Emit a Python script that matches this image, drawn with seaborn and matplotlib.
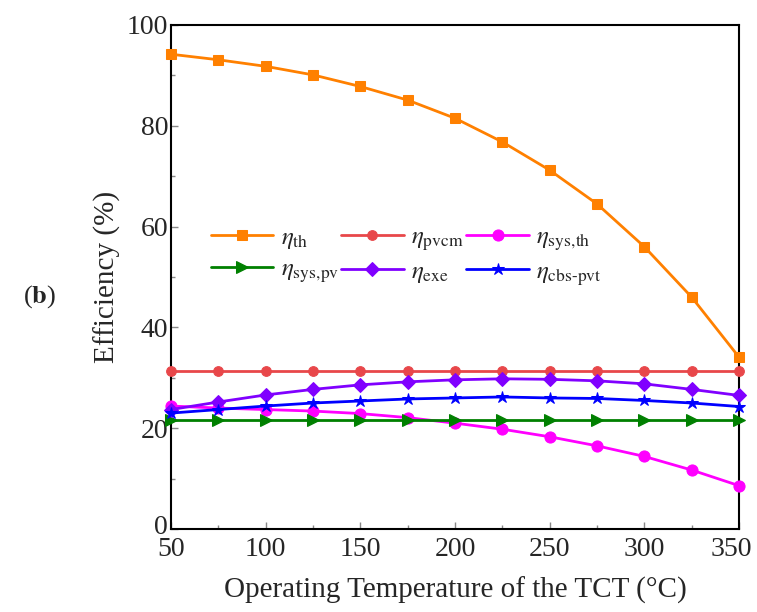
import matplotlib
matplotlib.use("Agg")
import matplotlib.pyplot as plt
import matplotlib.transforms as mtransforms
import seaborn as sns
import pandas as pd
from matplotlib.ticker import MultipleLocator

# Operating temperature of the TCT (°C)
temperature = [50, 75, 100, 125, 150, 175, 200, 225, 250, 275, 300, 325, 350]

# Efficiencies (%)
eta_th = [94.2, 93.1, 91.8, 90.1, 87.8, 85.1, 81.5, 76.8, 71.2, 64.5, 56.0, 46.0, 34.1]
eta_pvcm = [31.4] * 13
eta_sys_th = [24.4, 24.0, 23.7, 23.4, 22.9, 22.1, 21.0, 19.8, 18.3, 16.5, 14.4, 11.7, 8.6]
eta_sys_pv = [21.7] * 13
eta_exe = [23.7, 25.2, 26.6, 27.7, 28.6, 29.2, 29.6, 29.8, 29.7, 29.4, 28.8, 27.7, 26.5]
eta_cbs_pvt = [23.0, 23.7, 24.4, 25.0, 25.4, 25.8, 26.0, 26.2, 26.0, 25.9, 25.5, 25.0, 24.3]

series_labels = [r"$\eta_{\rm th}$", r"$\eta_{\rm pvcm}$", r"$\eta_{\rm sys,\!th}$",
                 r"$\eta_{\rm sys,\!pv}$", r"$\eta_{\rm exe}$", r"$\eta_{\rm cbs\text{-}pvt}$"]
series_values = [eta_th, eta_pvcm, eta_sys_th, eta_sys_pv, eta_exe, eta_cbs_pvt]
series_colors = ["#FF8000", "#E8474A", "#FF00FF", "#008000", "#8000FF", "#0000FF"]
series_markers = ["s", "o", "o", ">", "D", "*"]
series_msize = [7, 7, 8, 8, 7, 9]

sns.set_theme(style="ticks")
plt.rcParams["font.family"] = ["Liberation Serif", "DejaVu Serif"]
plt.rcParams["mathtext.fontset"] = "stix"

fig = plt.figure(figsize=(7.57, 6.12), dpi=100)
ax = fig.add_axes([171 / 757, 1 - 529 / 612, (739 - 171) / 757, (529 - 25) / 612])

for lab, vals, col, mk, ms in zip(series_labels, series_values, series_colors,
                                  series_markers, series_msize):
    df = pd.DataFrame({"T": temperature, "eta": vals})
    sns.lineplot(data=df, x="T", y="eta", ax=ax, color=col, marker=mk,
                 markersize=ms, markeredgecolor=col, linewidth=2, label=lab,
                 clip_on=False, zorder=3)

ax.set_xlim(50, 350)
ax.set_ylim(0, 100)
ax.set_xticks(list(range(50, 351, 50)))
ax.set_yticks(list(range(0, 101, 20)))
ax.xaxis.set_minor_locator(MultipleLocator(25))
ax.yaxis.set_minor_locator(MultipleLocator(10))
ax.tick_params(which="both", direction="in", top=False, right=False,
               labelsize=20, color="#888888", width=1)
ax.tick_params(which="major", length=5, pad=2)
ax.tick_params(which="minor", length=3)
ax.tick_params(axis="x", which="major", pad=6)
for s in ax.spines.values():
    s.set_linewidth(1.5)
    s.set_color("black")

# nudge the two corner tick labels so they stay clear of each other and the edge
fig.canvas.draw()
for tick in ax.xaxis.get_major_ticks():
    if abs(tick.get_loc() - 350) < 1e-6:
        tick.label1.set_transform(tick.label1.get_transform() +
                                  mtransforms.ScaledTranslation(-8 / 100, 0,
                                                                fig.dpi_scale_trans))
for tick in ax.yaxis.get_major_ticks():
    if abs(tick.get_loc()) < 1e-6:
        tick.label1.set_transform(tick.label1.get_transform() +
                                  mtransforms.ScaledTranslation(0, 5 / 100,
                                                                fig.dpi_scale_trans))

ax.set_xlabel("Operating Temperature of the TCT (\u00b0C)", fontsize=21, labelpad=10)
ax.set_ylabel("Efficiency (%)", fontsize=21, labelpad=4)

# legend filled row by row: three entries per row
handles, labels = ax.get_legend_handles_labels()
order = [0, 3, 1, 4, 2, 5]
leg = ax.legend([handles[i] for i in order], [labels[i] for i in order],
                loc="upper left", bbox_to_anchor=(0.03, 0.645), ncol=3,
                frameon=False, fontsize=18, handlelength=2.5, handletextpad=0.3,
                columnspacing=0.1, labelspacing=0.3)

fig.text(40 / 757, 1 - 297 / 612, r"($\mathbf{b}$)", fontsize=19,
         ha="center", va="center")

fig.savefig("out.png", dpi=100, facecolor="white")
